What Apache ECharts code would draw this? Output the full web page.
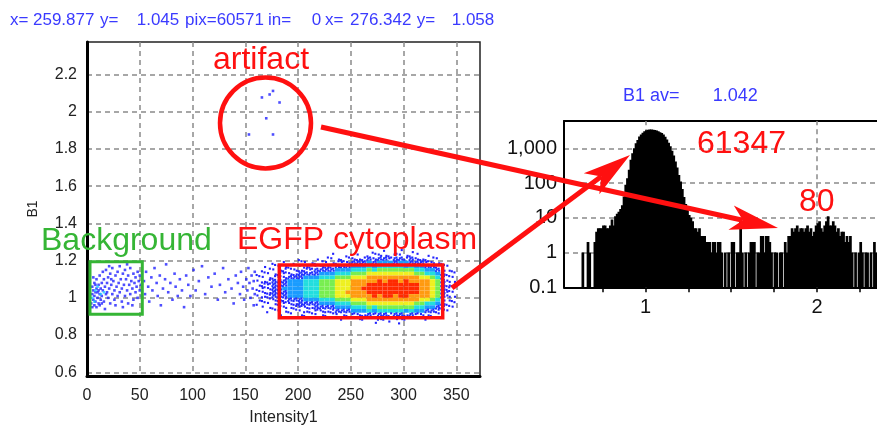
<!DOCTYPE html>
<html><head><meta charset="utf-8">
<script src="https://cdn.jsdelivr.net/npm/echarts@6/dist/echarts.min.js"></script>
<style>html,body{margin:0;padding:0;background:#fff}#c{width:877px;height:431px}</style>
</head><body><div id="c"></div>
<script>
const FONT = 'Arial, "Liberation Sans", sans-serif';
const RED = '#ff1010';
const GREEN = '#35b535';
const BLUE_TXT = '#3a3aff';

// ---- Left scatter: axis ticks ----
const scatterXTicks = [0, 50, 100, 150, 200, 250, 300, 350];
const scatterYTicks = [0.6, 0.8, 1, 1.2, 1.4, 1.6, 1.8, 2, 2.2];

// ---- Left scatter: individual points ----
const bgPoints = [
[4,0.97],[5,1.02],[5,1.06],[6,0.99],[6,1.04],[7,0.96],[7,1.01],[7,1.08],[8,1.03],[8,0.98],[9,1.05],[9,1.10],[10,1.00],[10,1.03],
[11,0.97],[11,1.07],[12,1.02],[12,1.12],[13,1.05],[13,0.99],[14,1.08],[14,1.01],[15,1.04],[15,1.14],[16,0.98],[16,1.10],[17,1.06],
[18,1.02],[18,1.15],[19,1.08],[20,1.00],[20,1.11],[21,1.05],[22,1.13],[22,0.97],[23,1.07],[24,1.02],[24,1.16],[25,1.09],[26,1.04],
[26,0.99],[27,1.12],[28,1.06],[29,1.01],[29,1.14],[30,1.08],[31,1.03],[31,1.17],[32,1.10],[33,0.98],[33,1.05],[34,1.13],[35,1.07],
[36,1.01],[36,1.15],[37,1.10],[38,1.04],[39,1.12],[39,0.97],[40,1.07],[41,1.02],[41,1.16],[42,1.09],[43,1.05],[44,1.13],[44,0.99],
[45,1.08],[46,1.03],[46,1.11],[47,1.06],[48,1.14],[48,1.00],[49,1.09],[50,1.04],[50,1.12],[51,1.07],[52,1.01],[6,1.11],[9,0.95],
[12,0.96],[17,0.94],[21,1.17],[27,0.96],[34,0.95],[43,0.96],[38,1.18],[5,0.95],[8,1.07],[11,1.04],[14,0.97],[19,1.03],[23,1.10]
];
const bgCyanPoints = [[8,1.04],[13,1.02],[10,1.06],[5,1.00],[16,1.03],[7,0.98]];
const gapPoints = [
[54,1.09],[55,1.02],[56,1.14],[58,1.06],[59,0.98],[61,1.11],[62,1.04],[64,1.16],[66,1.08],[67,1.01],[69,1.12],[70,0.96],[72,1.05],
[74,1.10],[75,1.18],[77,1.03],[79,1.08],[81,0.99],[83,1.13],[84,1.06],[86,1.01],[88,1.10],[90,1.04],[92,0.95],[94,1.12],[96,1.07],
[98,1.01],[101,1.15],[103,1.04],[106,1.09],[109,1.17],[112,1.02],[115,1.11],[118,1.06],[121,1.13],[124,0.99],[126,1.07],[129,1.16],
[131,1.03],[134,1.10],[137,1.05],[139,0.97],[141,1.12],[143,1.08],[145,1.02],[146,1.14],[148,1.06],[149,0.99],[151,1.10],[152,1.04],
[153,1.16],[154,1.08],[155,1.00],[156,1.12],[157,1.05],[158,0.96],[158,1.09],[159,1.14],[159,1.02]
];
const artifactPoints = [[165.8,2.077],[173.1,2.093],[176.3,2.112],[182.5,2.05],[169.9,1.965],[153.5,1.878],[176.3,1.878],[151.6,1.717]];

// ---- Left scatter: density cloud (level 1..9 per 5 x 0.02 cell) ----
const cloudX = [160,165,170,175,180,185,190,195,200,205,210,215,220,225,230,235,240,245,250,255,260,265,270,275,280,285,290,295,300,305,310,315,320,325,330,335,340,345];
const cloudY = [1.24,1.22,1.20,1.18,1.16,1.14,1.12,1.10,1.08,1.06,1.04,1.02,1.00,0.98,0.96,0.94,0.92,0.90,0.88,0.86];
const cloudLevel = [
[0,0,0,0,0,0,0,0,0,0, 0,0,0,0,0,0,0,0,0,0, 0,0,1,0,1,0,0,1,0,1, 0,0,0,0,0,0,0,0],
[0,0,0,0,0,0,0,0,0,0, 0,0,0,0,1,0,0,1,0,1, 0,1,1,2,1,1,2,1,1,1, 1,0,1,0,0,0,0,0],
[0,0,0,0,0,0,0,0,1,0, 0,1,0,1,1,1,1,1,2,2, 2,3,2,3,3,2,3,3,2,3, 2,2,1,1,1,0,0,0],
[0,0,0,1,0,1,0,1,1,1, 1,1,1,1,1,2,2,2,3,3, 3,4,3,4,4,4,3,4,4,3, 3,3,2,2,1,1,0,0],
[0,1,0,1,1,1,1,1,1,2, 1,2,2,2,2,3,3,3,4,4, 4,5,4,5,5,5,5,5,4,5, 4,4,3,3,2,1,1,0],
[0,1,1,1,1,2,1,2,2,2, 2,3,3,3,3,4,4,4,5,5, 5,6,5,6,6,6,6,6,6,6, 5,5,4,4,3,2,1,1],
[1,1,1,1,2,2,2,2,3,3, 3,3,4,4,4,5,5,5,6,6, 6,7,7,7,7,7,7,7,7,7, 6,6,5,5,4,2,1,1],
[1,1,1,2,2,2,3,3,3,4, 4,4,5,5,5,6,6,6,7,7, 7,8,8,8,8,8,8,8,8,8, 8,7,7,6,5,2,1,1],
[1,2,2,3,3,3,4,4,4,5, 5,5,6,6,6,7,7,7,8,8, 8,8,8,9,8,9,9,8,9,8, 8,8,8,7,6,3,2,1],
[1,2,2,3,3,3,4,4,4,5, 5,5,6,6,6,7,7,7,8,8, 8,9,9,9,9,9,9,9,9,9, 9,8,8,7,6,3,2,1],
[1,2,2,3,3,4,4,4,4,5, 5,5,6,6,6,7,7,7,8,8, 9,9,9,9,9,9,9,9,9,9, 9,8,8,7,6,3,2,1],
[1,2,2,3,3,3,4,4,4,5, 5,5,6,6,6,7,7,8,8,8, 8,9,9,9,9,9,9,9,9,9, 9,8,8,7,6,3,2,1],
[1,2,2,3,3,3,4,4,4,5, 5,5,6,6,6,7,7,7,8,8, 8,8,9,8,9,9,8,9,9,8, 8,8,8,7,6,3,2,1],
[1,1,1,2,2,2,3,3,3,4, 4,4,5,5,5,6,6,6,7,7, 7,8,8,8,8,8,8,8,8,8, 8,7,7,6,5,2,1,1],
[1,1,1,1,2,2,2,2,3,3, 3,3,4,4,4,5,5,5,6,6, 6,7,7,7,7,7,7,7,7,7, 6,6,5,5,4,2,1,1],
[0,1,1,1,1,2,1,2,2,2, 2,3,3,3,3,4,4,4,5,5, 5,6,5,6,6,6,6,6,6,6, 5,5,4,4,3,2,1,1],
[0,0,1,1,1,1,1,1,1,2, 1,2,2,2,2,3,3,3,4,4, 4,5,4,5,5,5,5,5,4,5, 4,4,3,3,2,1,1,0],
[0,0,0,0,1,0,1,0,1,1, 1,1,1,1,1,1,1,1,2,2, 2,3,2,3,3,2,3,3,2,3, 2,2,1,1,1,0,0,0],
[0,0,0,0,0,0,0,0,0,0, 0,0,0,1,0,0,1,0,1,1, 1,1,1,2,1,1,2,1,1,1, 1,0,1,0,0,0,0,0],
[0,0,0,0,0,0,0,0,0,0, 0,0,0,0,0,0,0,0,0,0, 0,0,1,0,0,1,0,1,0,0, 0,0,0,0,0,0,0,0]
];
const CELL_W = 5, CELL_H = 0.02;
const levelColors = ['#fff','#2222ff','#2222ff','#2030ff','#1a9cff','#22dede','#78ee50','#eef020','#ff9a10','#ff2a00'];
// speckle pattern (fractions of a cell) used for sparse cells
const specklePattern = [[0.3, 0.35], [0.75, 0.7], [0.15, 0.85], [0.65, 0.15]];
const speckleCount = [0, 1, 2, 4];

// ---- Right histogram ----
const histBinStart = 0.53, histBinWidth = 0.01;
const histCounts = [
0,0,0,0,0,0,0,0,0,0,
1,0,0,2,1,0,0,2,4,5,
5,5,6,6,5,5,6,9,6,11,
13,15,18,23,41,89,138,240,467,725,
1000,1390,1740,2180,2500,2800,3100,3300,3400,3450,
3450,3400,3350,3250,3100,2900,2750,2500,2150,1800,
1450,1150,850,620,420,280,170,110,68,40,
25,17,12,10,8,5,5,4,5,3,
3,3,2,2,2,1,2,2,1,2,
2,1,0,1,0,1,0,2,2,0,
1,1,8,1,0,1,0,1,2,2,
2,0,1,1,3,3,1,3,3,2,
1,0,1,1,0,1,1,0,2,1,
3,3,5,4,5,6,4,5,5,4,
5,6,4,5,3,4,6,7,8,5,
4,6,8,11,6,6,8,6,4,5,
3,4,4,2,3,2,3,1,0,1,
0,1,2,1,0,1,1,0,1,0,
2,1,1
];
const histXTicks = [0.75, 1, 1.25, 1.5, 1.75, 2, 2.25];
const histXLabels = [1, 2];
const histGridX = [1, 2];

// build data tables
const cloudData = [];
cloudY.forEach((y, r) => cloudX.forEach((x, c) => { const lv = cloudLevel[r][c]; if (lv > 0) cloudData.push([x, y, lv, r, c]); }));
const histData = histCounts.map((n, i) => [histBinStart + i * histBinWidth, n]);

const gridLine = { show: true, lineStyle: { color: '#8a8a8a', type: [5, 4], width: 1.5 } };

function arrowParts(sx, sy, tx, ty, L, W, notch) {
  const dx = tx - sx, dy = ty - sy, len = Math.hypot(dx, dy);
  const ux = dx / len, uy = dy / len, nx = -uy, ny = ux;
  const bx = tx - L * ux, by = ty - L * uy;
  const mx = tx - (L - notch) * ux, my = ty - (L - notch) * uy;
  return [
    { type: 'line', z: 100, shape: { x1: sx, y1: sy, x2: mx, y2: my }, style: { stroke: RED, lineWidth: 5 } },
    { type: 'polygon', z: 100, shape: { points: [[tx, ty], [bx + W * nx, by + W * ny], [mx, my], [bx - W * nx, by - W * ny]] }, style: { fill: RED } }
  ];
}
function txt(x, y, text, size, color) {
  return { type: 'text', z: 101, x: x, y: y, style: { text: text, fontSize: size, fontFamily: FONT, fill: color, verticalAlign: 'middle', align: 'left' } };
}

const HX_MIN = 0.525, HX_MAX = 2.35;

const chart = echarts.init(document.getElementById('c'), null, { renderer: 'canvas' });
chart.setOption({
  animation: false,
  backgroundColor: '#fff',
  grid: [
    { left: 87, top: 42, width: 393, height: 337.5, show: true, borderColor: '#222', borderWidth: 1.5 },
    { left: 564, top: 121, width: 313, height: 166.3, show: false }
  ],
  xAxis: [
    { gridIndex: 0, type: 'value', min: 0, max: 372.5,
      axisLine: { show: true, onZero: false, lineStyle: { color: '#000', width: 3 } },
      axisTick: { show: false, customValues: scatterXTicks },
      axisLabel: { customValues: scatterXTicks, fontSize: 16, color: '#222', fontFamily: FONT, margin: 12 },
      splitLine: gridLine,
      name: 'Intensity1', nameLocation: 'middle', nameGap: 34,
      nameTextStyle: { fontSize: 16, color: '#222', fontFamily: FONT } },
    { gridIndex: 1, type: 'value', min: HX_MIN, max: HX_MAX,
      axisLine: { show: true, onZero: false, lineStyle: { color: '#000', width: 2 } },
      axisTick: { show: true, inside: false, length: 5, customValues: histXTicks, lineStyle: { color: '#000', width: 1.5 } },
      axisLabel: { customValues: histXLabels, fontSize: 20, color: '#111', fontFamily: FONT, margin: 10 },
      splitLine: { show: false } },
    { gridIndex: 1, type: 'value', min: HX_MIN, max: HX_MAX, position: 'top',
      axisLine: { show: true, onZero: false, lineStyle: { color: '#000', width: 2 } },
      axisTick: { show: false }, axisLabel: { show: false }, splitLine: { show: false } }
  ],
  yAxis: [
    { gridIndex: 0, type: 'value', min: 0.58, max: 2.375,
      axisLine: { show: true, onZero: false, lineStyle: { color: '#000', width: 3 } },
      axisTick: { show: false, customValues: scatterYTicks },
      axisLabel: { customValues: scatterYTicks, fontSize: 16, color: '#222', fontFamily: FONT, margin: 10 },
      splitLine: gridLine,
      name: 'B1', nameLocation: 'middle', nameGap: 47,
      nameTextStyle: { fontSize: 14, color: '#222', fontFamily: FONT } },
    { gridIndex: 1, type: 'log', logBase: 10, min: 0.1, max: 6110,
      axisLine: { show: true, onZero: false, lineStyle: { color: '#000', width: 2 } },
      axisTick: { show: false },
      axisLabel: { fontSize: 20, color: '#111', fontFamily: FONT, margin: 7,
        formatter: function (v) {
          const l = Math.log10(v); if (Math.abs(l - Math.round(l)) > 1e-6) return '';
          const p = Math.round(l); if (p < 0) return '0.1';
          return String(Math.pow(10, p)).replace(/\B(?=(\d{3})+(?!\d))/g, ',');
        } },
      splitLine: gridLine }
  ],
  series: [
    { type: 'custom', xAxisIndex: 0, yAxisIndex: 0, data: cloudData, encode: { x: 0, y: 1 }, clip: true,
      renderItem: function (params, api) {
        const x0 = api.value(0), y0 = api.value(1), lv = api.value(2), r = api.value(3), c = api.value(4);
        const p0 = api.coord([x0, y0 + CELL_H]), p1 = api.coord([x0 + CELL_W, y0]);
        const w = p1[0] - p0[0], h = p1[1] - p0[1];
        if (lv >= 4) {
          return { type: 'rect', shape: { x: p0[0], y: p0[1], width: w, height: h }, style: { fill: levelColors[lv] } };
        }
        const children = [];
        const k = (r + c) % specklePattern.length;
        for (let i = 0; i < speckleCount[lv]; i++) {
          const sp = specklePattern[(k + i) % specklePattern.length];
          children.push({ type: 'rect', shape: { x: p0[0] + sp[0] * w - 1, y: p0[1] + sp[1] * h - 1, width: 2.1, height: 2.1 },
                          style: { fill: levelColors[lv] } });
        }
        return { type: 'group', children: children };
      } },
    { type: 'scatter', xAxisIndex: 0, yAxisIndex: 0, data: bgPoints, symbol: 'rect', symbolSize: 2.6, itemStyle: { color: '#2222ff' } },
    { type: 'scatter', xAxisIndex: 0, yAxisIndex: 0, data: bgCyanPoints, symbol: 'rect', symbolSize: 2.6, itemStyle: { color: '#22c8ff' } },
    { type: 'scatter', xAxisIndex: 0, yAxisIndex: 0, data: gapPoints, symbol: 'rect', symbolSize: 2.6, itemStyle: { color: '#2222ff' } },
    { type: 'scatter', xAxisIndex: 0, yAxisIndex: 0, data: artifactPoints, symbol: 'rect', symbolSize: 2.6, itemStyle: { color: '#2222ff' } },
    { type: 'line', xAxisIndex: 1, yAxisIndex: 1, data: [[1, 1]], showSymbol: false, silent: true, z: 1,
      markLine: { silent: true, symbol: 'none', z: 1, label: { show: false },
        lineStyle: { color: '#8a8a8a', type: [5, 4], width: 1.5 },
        data: histGridX.map(v => ({ xAxis: v })) } },
    { type: 'custom', xAxisIndex: 1, yAxisIndex: 1, data: histData, encode: { x: 0, y: 1 }, clip: true, z: 3,
      renderItem: function (params, api) {
        const x0 = api.value(0), n = api.value(1);
        if (!(n > 0)) return null;
        const p0 = api.coord([x0, n]), p1 = api.coord([x0 + histBinWidth, 0.1]);
        return { type: 'rect', shape: { x: p0[0] - 0.5, y: p0[1], width: p1[0] - p0[0] + 1, height: p1[1] - p0[1] },
                 style: { fill: '#000', stroke: null } };
      } }
  ],
  graphic: [
    txt(10, 20, 'x=', 17, BLUE_TXT), txt(33, 20, '259.877', 17, BLUE_TXT), txt(100, 20, 'y=', 17, BLUE_TXT),
    txt(136.7, 20, '1.045', 17, BLUE_TXT), txt(185, 20, 'pix=60571', 17, BLUE_TXT), txt(268, 20, 'in=', 17, BLUE_TXT),
    txt(311.7, 20, '0', 17, BLUE_TXT), txt(325, 20, 'x=', 17, BLUE_TXT), txt(350, 20, '276.342', 17, BLUE_TXT),
    txt(416.7, 20, 'y=', 17, BLUE_TXT), txt(451.7, 20, '1.058', 17, BLUE_TXT),
    txt(623, 96, 'B1 av=', 18, BLUE_TXT), txt(712.7, 96, '1.042', 18, BLUE_TXT),
    txt(213, 60, 'artifact', 32, RED),
    txt(41, 241, 'Background', 32, GREEN),
    txt(237, 240, 'EGFP cytoplasm', 32, RED),
    txt(697, 144, '61347', 32, RED),
    txt(799, 202, '80', 32, RED),
    { type: 'circle', z: 100, shape: { cx: 265.5, cy: 123, r: 45.5 }, style: { stroke: RED, lineWidth: 4.5, fill: 'none' } },
    { type: 'rect', z: 100, shape: { x: 90, y: 261.7, width: 52.3, height: 52.6 }, style: { stroke: GREEN, lineWidth: 3, fill: 'none' } },
    { type: 'rect', z: 100, shape: { x: 279.3, y: 265, width: 163.4, height: 52.7 }, style: { stroke: RED, lineWidth: 3.5, fill: 'none' } }
  ].concat(arrowParts(321, 127, 778, 228, 48, 12.5, 12), arrowParts(452, 288, 630, 155, 48, 13, 12))
});
</script>
</body></html>
